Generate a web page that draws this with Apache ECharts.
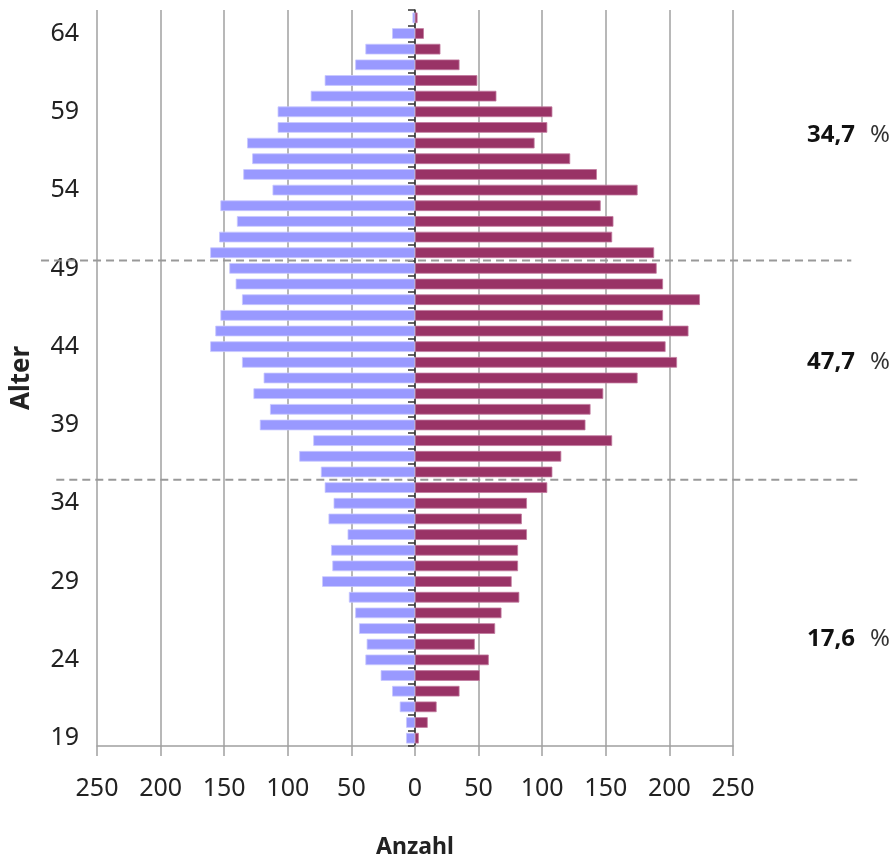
<!DOCTYPE html>
<html>
<head>
<meta charset="utf-8">
<script src="https://cdn.jsdelivr.net/npm/echarts@6/dist/echarts.min.js"></script>
<style>html,body{margin:0;padding:0;background:#fff}#c{width:895px;height:864px}</style>
</head>
<body>
<div id="c"></div>
<script>
const ages = [19,20,21,22,23,24,25,26,27,28,29,30,31,32,33,34,35,36,37,38,39,40,41,42,43,44,45,46,47,48,49,50,51,52,53,54,55,56,57,58,59,60,61,62,63,64,65];
const maleValues = [-7,-7,-12,-18,-27,-39,-38,-44,-47,-52,-73,-65,-66,-53,-68,-64,-71,-74,-91,-80,-122,-114,-127,-119,-136,-161,-157,-153,-136,-141,-146,-161,-154,-140,-153,-112,-135,-128,-132,-108,-108,-82,-71,-47,-39,-18,-2];
const femaleValues = [3,10,17,35,51,58,47,63,68,82,76,81,81,88,84,88,104,108,115,155,134,138,148,175,206,197,215,195,224,195,190,188,155,156,146,175,143,122,94,104,108,64,49,35,20,7,2];
const xTicks = [-250,-200,-150,-100,-50,0,50,100,150,200,250];
// [age boundary, x start (Anzahl), x end (Anzahl)]
const groupBoundaries = [[49.5, -294, 343], [35.5, -282, 349]];
// [share text, age position]
const groupShares = [['34,7', 57.5], ['47,7', 43.0], ['17,6', 25.3]];

const chart = echarts.init(document.getElementById('c'));
const font = 'Noto Sans';
chart.setOption({
  animation: false,
  grid: {left: 97, right: 162, top: 10, bottom: 106, containLabel: false},
  xAxis: {
    type: 'value', min: xTicks[0], max: xTicks[xTicks.length-1], interval: 50,
    axisLine: {show: true, onZero: false, lineStyle: {color: '#a0a0a0', width: 1.5}},
    axisTick: {show: true, length: 10, lineStyle: {color: '#a0a0a0', width: 1.5}},
    splitLine: {show: true, lineStyle: {color: '#a0a0a0', width: 1.5}},
    axisLabel: {formatter: v => String(Math.abs(v)), fontFamily: font, fontSize: 25, color: '#222', margin: 30},
    name: 'Anzahl', nameLocation: 'middle', nameGap: 90,
    nameTextStyle: {fontFamily: font, fontWeight: 'bold', fontSize: 23, color: '#222'}
  },
  yAxis: [
    {
      type: 'category', data: ages, position: 'left',
      axisLine: {show: false, onZero: false}, axisTick: {show: false},
      axisLabel: {interval: 4, fontFamily: font, fontSize: 25, color: '#222', margin: 18},
      name: 'Alter', nameLocation: 'middle', nameGap: 62, nameRotate: 90,
      nameTextStyle: {fontFamily: font, fontWeight: 'bold', fontSize: 26, color: '#222'}
    },
    {
      type: 'category', data: ages, position: 'left',
      axisLine: {show: true, onZero: true, lineStyle: {color: '#333', width: 1.5}},
      axisTick: {show: true, interval: 0, length: 7, lineStyle: {color: '#333', width: 1.5}},
      axisLabel: {show: false}
    },
    {
      type: 'value', min: 18.5, max: 65.5, show: false
    }
  ],
  series: [
    {
      name: 'Männer', type: 'bar', data: maleValues, yAxisIndex: 0, barGap: '-100%', barCategoryGap: '32%',
      itemStyle: {color: '#9999ff', borderColor: '#c8c8ff', borderWidth: 0.8}
    },
    {
      name: 'Frauen', type: 'bar', data: femaleValues, yAxisIndex: 0, barGap: '-100%', barCategoryGap: '32%',
      itemStyle: {color: '#993366', borderColor: '#c27a9e', borderWidth: 0.8}
    }
  ]
});

const px = v => chart.convertToPixel({xAxisIndex: 0}, v);
const py = v => chart.convertToPixel({yAxisIndex: 2}, v);
const graphics = [];
groupBoundaries.forEach(b => {
  const y = py(b[0]);
  graphics.push({
    type: 'line', silent: true, z: 10,
    shape: {x1: px(b[1]), y1: y, x2: px(b[2]), y2: y},
    style: {stroke: '#999', lineWidth: 2, lineDash: [8, 5]}
  });
});
groupShares.forEach(s => {
  graphics.push({
    type: 'text', z: 10,
    x: 890, y: py(s[1]),
    style: {
      text: '{b|' + s[0] + '}{n|%}',
      align: 'right', verticalAlign: 'middle',
      rich: {
        b: {fontFamily: font, fontWeight: 'bold', fontSize: 24, fill: '#111'},
        n: {fontFamily: font, fontSize: 24, fill: '#333', padding: [0, 0, 0, 15]}
      }
    }
  });
});
chart.setOption({graphic: graphics});
</script>
</body>
</html>
